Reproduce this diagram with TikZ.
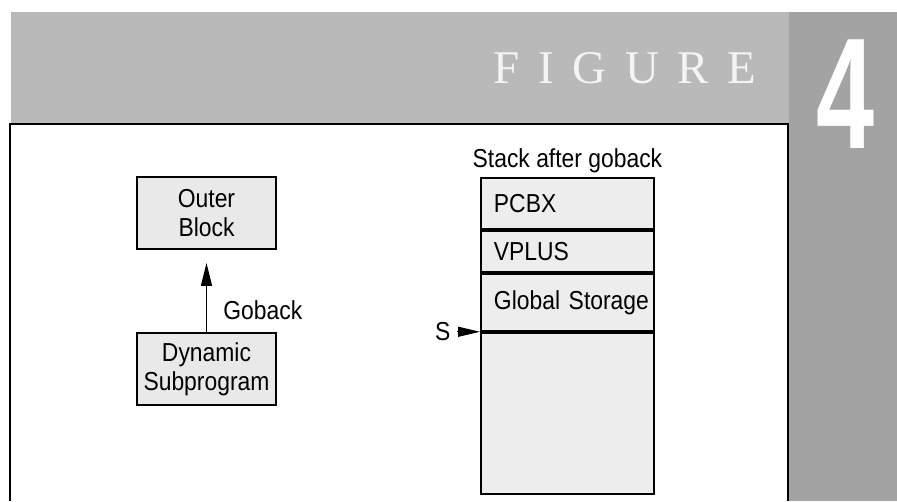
\documentclass[tikz,border=0pt]{standalone}
\usepackage{fontspec}
\setmainfont{Liberation Sans}[FakeStretch=0.88]
\newfontfamily\figfont{Liberation Serif}[LetterSpace=40]
\newfontfamily\numfont{Liberation Sans}[FakeStretch=0.66]
\usetikzlibrary{arrows.meta,positioning}

\definecolor{bannergray}{HTML}{B9B9B9}
\definecolor{columngray}{HTML}{A3A3A3}
\definecolor{boxgray}{HTML}{E9E9E9}
\definecolor{stackgray}{HTML}{EDEDED}
\definecolor{titlewhite}{HTML}{F4F4F4}

\tikzset{
  box/.style={draw, fill=boxgray, line width=1.1pt, minimum width=2.78cm,
    minimum height=1.44cm, align=center, inner sep=0pt},
  cell/.style={draw, fill=stackgray, line width=1.1pt, minimum width=3.46cm,
    text width=2.94cm, align=left, inner xsep=0.26cm, inner ysep=0pt},
  goarrow/.style={line width=0.7pt, -{Triangle[length=0.46cm,width=0.22cm]}},
  sarrow/.style={line width=0.7pt, -{Triangle[length=0.44cm,width=0.2cm]}}
}

\begin{document}
\begin{tikzpicture}[x=0.02cm, y=-0.02cm,
  every node/.append style={font=\fontsize{14.8}{16.5}\selectfont}]
\useasboundingbox (0,0) rectangle (897,501);
\fill[white] (0,0) rectangle (897,501);

% page header
\fill[bannergray] (11,12) rectangle (789,124);
\fill[columngray] (789,12) rectangle (897,501);
\draw[line width=1.1pt] (10,501) -- (10,124) -- (788,124) -- (788,501);
\node[anchor=base west, inner sep=0pt, text=titlewhite,
  font=\figfont\fontsize{26.7}{30}\selectfont] (figtitle) at (493,83) {FIGURE};
\node[anchor=base west, inner sep=0pt, text=white,
  font=\numfont\bfseries\fontsize{90}{92}\selectfont] (fignum) at (816,148) {4};

% call chain
\node[box] (outer) at (206.5,213) {Outer\\Block};
\node[box] (dyn) at (206.5,369) {Dynamic\\Subprogram};
\draw[goarrow, shorten >=0.26cm] (dyn) -- (outer);
\node[anchor=west, inner sep=0pt] (goback) at (223,310) {Goback};

% stack
\node[cell, minimum height=1.02cm, anchor=north west] (pcbx) at (480,177) {PCBX};
\node[cell, minimum height=0.82cm, below=0pt of pcbx] (vplus) {VPLUS};
\node[cell, minimum height=1.14cm, below=0pt of vplus] (glob) {\mbox{Global Storage}};
\node[cell, minimum height=3.22cm, below=0pt of glob] (free) {};
\node[anchor=base] (caption) at ([yshift=0.2cm]pcbx.north) {Stack after goback};
\node[left=0.47cm of glob.south west] (slabel) {S};
\draw[sarrow] (slabel.east) -- (glob.south west);
\end{tikzpicture}
\end{document}
